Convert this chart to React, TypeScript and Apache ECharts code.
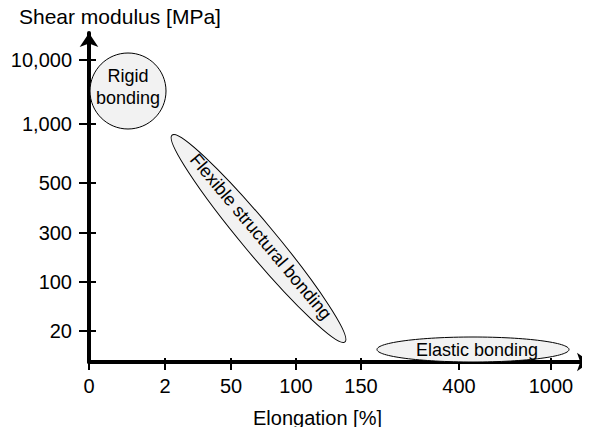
import React, { useEffect, useRef } from "react";
import * as echarts from "echarts";

// Schematic axes: tick labels and their positions along each (non-uniform) axis
const xTickLabels = ["0", "2", "50", "100", "150", "400", "1000"];
const xTickPos = [0, 76, 142, 207, 272, 370, 462];
const xAxisMax = 501;

const yTickLabels = ["20", "100", "300", "500", "1,000", "10,000"];
const yTickPos = [31, 80, 129, 179, 238, 302];
const yAxisMax = 329;

// Regions (in axis units): name, start point, end point, shape kind
const regionNames = ["Rigid\nbonding", "Flexible structural bonding", "Elastic bonding"];
const regionX0 = [1, 83, 288];
const regionY0 = [233, 227, 0];
const regionX1 = [77, 256, 480];
const regionY1 = [309, 20, 25];
const regionKind = ["box", "diag", "box"];

const FONT = "'Liberation Sans', Arial, Helvetica, sans-serif";

export default function App() {
  const ref = useRef<HTMLDivElement>(null);
  useEffect(() => {
    if (!ref.current) return;
    const chart = echarts.init(ref.current, undefined, { renderer: "svg" });
    const data = regionNames.map((n, i) => [regionX0[i], regionY0[i], regionX1[i], regionY1[i], i]);
    const axisLineStyle = { color: "#000", width: 4 };
    chart.setOption({
      animation: false,
      grid: { left: 89, right: 0, top: 33, bottom: 73, containLabel: false },
      xAxis: [
        {
          type: "value",
          position: "bottom",
          min: 0,
          max: xAxisMax,
          axisLine: { show: true, lineStyle: axisLineStyle, symbol: ["none", "arrow"], symbolSize: [14, 13], symbolOffset: [0, 0] },
          axisTick: { show: true, inside: false, length: 8, lineStyle: { color: "#000", width: 2 }, customValues: xTickPos },
          axisLabel: {
            show: true,
            margin: 14,
            fontSize: 20,
            fontFamily: FONT,
            color: "#000",
            customValues: xTickPos,
            formatter: (v: number) => {
              const i = xTickPos.indexOf(v);
              return i >= 0 ? xTickLabels[i] : "";
            },
          },
          splitLine: { show: false },
        },
        {
          type: "value",
          position: "bottom",
          min: 0,
          max: xAxisMax,
          axisLine: { show: false },
          axisTick: { show: true, inside: true, length: 4, lineStyle: { color: "#000", width: 2 }, customValues: xTickPos },
          axisLabel: { show: false },
          splitLine: { show: false },
        },
      ],
      yAxis: [
        {
          type: "value",
          position: "left",
          min: 0,
          max: yAxisMax,
          axisLine: { show: true, lineStyle: axisLineStyle, symbol: ["none", "arrow"], symbolSize: [14, 14], symbolOffset: [0, 0] },
          axisTick: { show: true, inside: false, length: 10, lineStyle: { color: "#000", width: 2 }, customValues: yTickPos },
          axisLabel: {
            show: true,
            margin: 17,
            fontSize: 20,
            fontFamily: FONT,
            color: "#000",
            customValues: yTickPos,
            formatter: (v: number) => {
              const i = yTickPos.indexOf(v);
              return i >= 0 ? yTickLabels[i] : "";
            },
          },
          splitLine: { show: false },
        },
        {
          type: "value",
          position: "left",
          min: 0,
          max: yAxisMax,
          axisLine: { show: false },
          axisTick: { show: true, inside: true, length: 7, lineStyle: { color: "#000", width: 2 }, customValues: yTickPos },
          axisLabel: { show: false },
          splitLine: { show: false },
        },
      ],
      graphic: [
        {
          type: "text",
          left: 19,
          top: 6,
          style: { text: "Shear modulus [MPa]", font: `21px ${FONT}`, fill: "#000" },
        },
        {
          type: "text",
          left: 253,
          top: 408,
          style: { text: "Elongation [%]", font: `20px ${FONT}`, fill: "#000" },
        },
      ],
      series: [
        {
          type: "custom",
          xAxisIndex: 0,
          yAxisIndex: 0,
          clip: false,
          z: 1,
          data,
          renderItem: (params: any, api: any) => {
            const i = api.value(4);
            const p1 = api.coord([api.value(0), api.value(1)]);
            const p2 = api.coord([api.value(2), api.value(3)]);
            const cx = (p1[0] + p2[0]) / 2;
            const cy = (p1[1] + p2[1]) / 2;
            const kind = regionKind[i];
            let rx: number, ry: number, rot: number;
            if (kind === "diag") {
              const dx = p2[0] - p1[0];
              const dy = p2[1] - p1[1];
              rx = Math.sqrt(dx * dx + dy * dy) / 2;
              ry = 16;
              rot = -Math.atan2(dy, dx);
            } else {
              rx = Math.abs(p2[0] - p1[0]) / 2;
              ry = Math.abs(p2[1] - p1[1]) / 2;
              rot = 0;
            }
            const tx = i === 2 ? 4 : 0;
            const ty = kind === "diag" ? -3 : i === 0 ? -4 : 0;
            return {
              type: "group",
              x: cx,
              y: cy,
              rotation: rot,
              children: [
                {
                  type: "ellipse",
                  shape: { cx: 0, cy: 0, rx, ry },
                  style: { fill: "#f2f2f2", stroke: "#000", lineWidth: 1 },
                },
                {
                  type: "text",
                  x: tx,
                  y: ty,
                  style: {
                    text: regionNames[i],
                    font: `18px ${FONT}`,
                    fill: "#000",
                    align: "center",
                    verticalAlign: "middle",
                    textAlign: "center",
                    textVerticalAlign: "middle",
                    lineHeight: 22,
                  },
                },
              ],
            };
          },
        },
      ],
    });
    return () => chart.dispose();
  }, []);
  return <div ref={ref} style={{ width: 590, height: 435, margin: -8 }} />;
}
